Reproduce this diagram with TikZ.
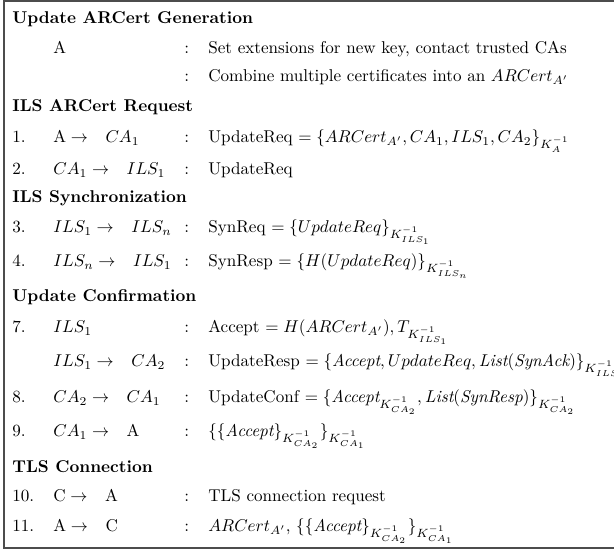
\documentclass[tikz,border=0pt]{standalone}
\usepackage{amsmath}
\tikzset{
  head/.style={anchor=base west,inner sep=0pt,font=\bfseries},
  cell/.style={anchor=base west,inner sep=0pt},
  frame/.style={draw=black!70,line width=1.1pt}
}
\newcommand{\msg}[2]{$#1 \rightarrow\hspace{7.5pt} #2$}
\begin{document}
\begin{tikzpicture}[x=0.585pt,y=-0.585pt]
  \useasboundingbox (0,0) rectangle (614,551);
  \draw[frame] (614,1) -- (4,1) -- (4,548) -- (614,548);
  % update arcert generation
  \draw
    (12,23.5) node[head] (h1){Update ARCert Generation}
    (53,53.3) node[cell] (p0){A}
    (184,53.3) node[cell] (c0){:}
    (208,53.3) node[cell] (d0){Set extensions for new key, contact trusted CAs}
    (184,81.7) node[cell] (c0b){:}
    (208,81.7) node[cell] (d0b){Combine multiple certificates into an $ARCert_{A'}$};
  % ils arcert request
  \draw
    (12,111.7) node[head] (h2){ILS ARCert Request}
    (12,142.7) node[cell] (n1){1.}
    (53,142.7) node[cell] (p1){\msg{\mathrm{A}}{CA_1}}
    (184,142.7) node[cell] (c1){:}
    (208,142.7) node[cell] (d1){UpdateReq $=\{ARCert_{A'}, CA_1, ILS_1, CA_2\}_{K_A^{-1}}$}
    (12,175) node[cell] (n2){2.}
    (53,175) node[cell] (p2){\msg{CA_1}{ILS_1}}
    (184,175) node[cell] (c2){:}
    (208,175) node[cell] (d2){UpdateReq};
  % ils synchronization
  \draw
    (12,203) node[head] (h3){ILS Synchronization}
    (12,233) node[cell] (n3){3.}
    (53,233) node[cell] (p3){\msg{ILS_1}{ILS_n}}
    (184,233) node[cell] (c3){:}
    (208,233) node[cell] (d3){SynReq $=\{UpdateReq\}_{K^{-1}_{ILS_1}}$}
    (12,267) node[cell] (n4){4.}
    (53,267) node[cell] (p4){\msg{ILS_n}{ILS_1}}
    (184,267) node[cell] (c4){:}
    (208,267) node[cell] (d4){SynResp $=\{H(UpdateReq)\}_{K^{-1}_{ILS_n}}$};
  % update confirmation
  \draw
    (12,301.7) node[head] (h4){Update Confirmation}
    (12,332.7) node[cell] (n7){7.}
    (53,332.7) node[cell] (p7){$ILS_1$}
    (184,332.7) node[cell] (c7){:}
    (208,332.7) node[cell] (d7){Accept $=H(ARCert_{A'}),T_{K^{-1}_{ILS_1}}$}
    (53,367) node[cell] (p7b){\msg{ILS_1}{CA_2}}
    (184,367) node[cell] (c7b){:}
    (208,367) node[cell] (d7b){UpdateResp $=\{\textit{Accept}, UpdateReq, \textit{List}(\textit{SynAck})\}_{K^{-1}_{ILS_1}}$}
    (12,402.7) node[cell] (n8){8.}
    (53,402.7) node[cell] (p8){\msg{CA_2}{CA_1}}
    (184,402.7) node[cell] (c8){:}
    (208,402.7) node[cell] (d8){UpdateConf $=\{\textit{Accept}_{K^{-1}_{CA_2}}, \textit{List}(\textit{SynResp})\}_{K^{-1}_{CA_2}}$}
    (12,436.7) node[cell] (n9){9.}
    (53,436.7) node[cell] (p9){\msg{CA_1}{\mathrm{A}}}
    (184,436.7) node[cell] (c9){:}
    (208,436.7) node[cell] (d9){$\{\{\textit{Accept}\}_{K^{-1}_{CA_2}}\}_{K^{-1}_{CA_1}}$};
  % tls connection
  \draw
    (12,472) node[head] (h5){TLS Connection}
    (12,501.7) node[cell] (n10){10.}
    (53,501.7) node[cell] (p10){\msg{\mathrm{C}}{\mathrm{A}}}
    (184,501.7) node[cell] (c10){:}
    (208,501.7) node[cell] (d10){TLS connection request}
    (12,531.7) node[cell] (n11){11.}
    (53,531.7) node[cell] (p11){\msg{\mathrm{A}}{\mathrm{C}}}
    (184,531.7) node[cell] (c11){:}
    (208,531.7) node[cell] (d11){$ARCert_{A'}$, $\{\{\textit{Accept}\}_{K^{-1}_{CA_2}}\}_{K^{-1}_{CA_1}}$};
\end{tikzpicture}
\end{document}
